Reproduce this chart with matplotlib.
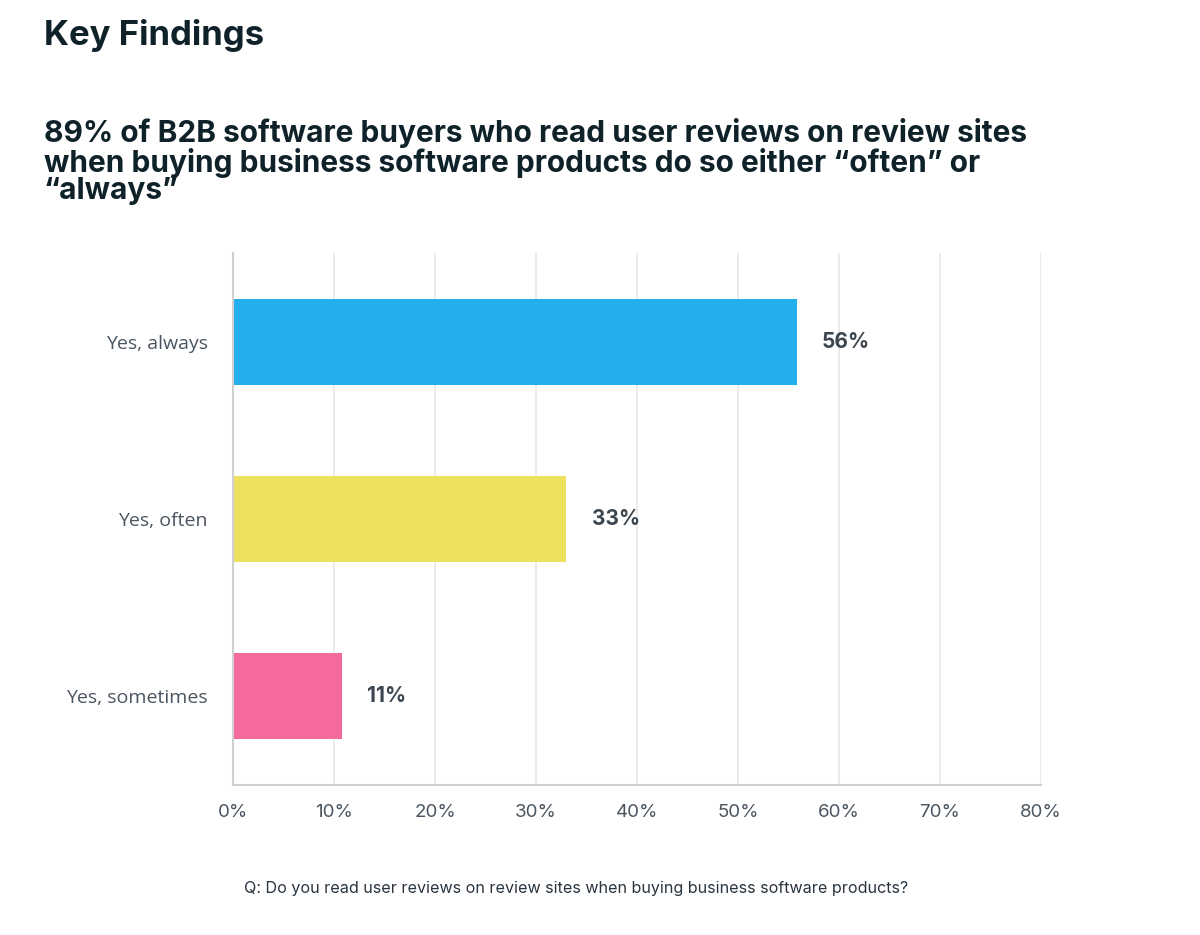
import matplotlib.pyplot as plt
import numpy as np

plt.rcParams.update({
    'font.family': ['Inter', 'DejaVu Sans'],
    'font.size': 14
})

categories = ['Yes, always', 'Yes, often', 'Yes, sometimes']
values = [55.8, 33.0, 10.8]
labels = ['56%', '33%', '11%']
colors = ['#23AEEE', '#EDE15F', '#F56A9D']
ticks = [0, 10, 20, 30, 40, 50, 60, 70, 80]

fig = plt.figure(figsize=(12, 9.35), dpi=100)
W, H = 1200, 935
ax = fig.add_axes([233 / W, 1 - 785 / H, (1041 - 233) / W, (785 - 253) / H])

y = np.arange(len(categories))
ax.barh(y, values, height=0.485, color=colors, zorder=2)

for yi, v, lab in zip(y, values, labels):
    ax.text(v + 2.5, yi, lab, ha='left', va='center', fontsize=15,
            fontweight='bold', color='#3b4650', zorder=3)

ax.set_xlim(0, 80)
ax.set_ylim(len(categories) - 0.5, -0.5)
ax.set_xticks(ticks)
ax.set_xticklabels([f'{t}%' for t in ticks], fontsize=13.5, color='#4a5560')
ax.set_yticks(y)
ax.set_yticklabels(categories, family=['Open Sans', 'DejaVu Sans'],
                   fontsize=14, color='#4a5560')
ax.tick_params(axis='both', length=0)
ax.tick_params(axis='x', pad=14)
ax.tick_params(axis='y', pad=18)

ax.grid(axis='x', color='#e8e8e8', linewidth=1.2, zorder=0)
for s in ['top', 'right']:
    ax.spines[s].set_visible(False)
for s in ['left', 'bottom']:
    ax.spines[s].set_color('#d0d0d0')
    ax.spines[s].set_linewidth(1.5)

fig.text(44 / W, 1 - 45 / H, 'Key Findings', fontsize=25, fontweight='bold',
         color='#0f2129', ha='left', va='baseline')
fig.text(44 / W, 1 - 118 / H,
         '89% of B2B software buyers who read user reviews on review sites\n'
         'when buying business software products do so either \u201coften\u201d or\n'
         '\u201calways\u201d',
         fontsize=21.5, fontweight='bold', color='#0f2129', ha='left',
         va='top', linespacing=0.98)
fig.text(244 / W, 1 - 888 / H,
         'Q: Do you read user reviews on review sites when buying business software products?',
         fontsize=11.6, color='#2a3540', ha='left', va='center')

fig.savefig('out.png', dpi=100)
plt.close(fig)
